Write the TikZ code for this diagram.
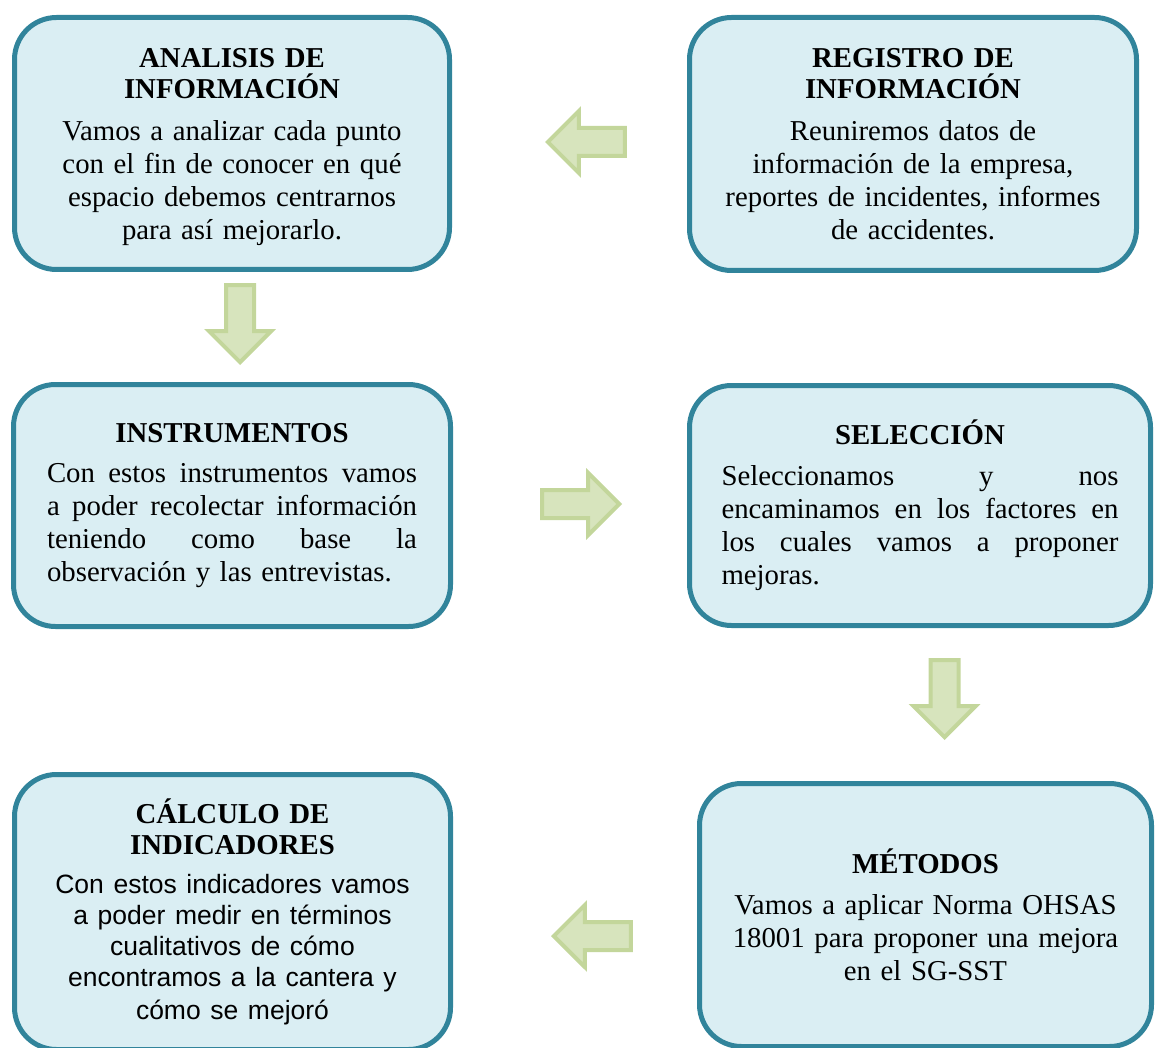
\documentclass[tikz,border=0pt]{standalone}
\usepackage{fontspec}
\setmainfont{Liberation Serif}
\setsansfont{Liberation Sans}
\usetikzlibrary{shapes.arrows,positioning}
\definecolor{boxteal}{RGB}{49,132,155}
\definecolor{boxfill}{RGB}{218,238,243}
\definecolor{arrowfill}{RGB}{215,228,189}
\definecolor{arrowline}{RGB}{195,214,155}
\tikzset{
	stage/.style={
		draw=boxteal,
		fill=boxfill,
		line width=5pt,
		rounded corners=42pt,
		inner sep=0pt,
		align=center,
		font=\fontsize{28.8}{33}\selectfont
	},
	blockarrow/.style={
		single arrow,
		draw=arrowline,
		fill=arrowfill,
		line width=4pt,
		minimum height=77pt,
		minimum width=58pt,
		single arrow head extend=17pt,
		inner sep=12pt
	}
}
\newcommand{\fillline}[1]{\makebox[\hsize][s]{\spaceskip=.25em plus 1fil\relax #1}}
\newcommand{\lastline}[1]{\makebox[\hsize][l]{#1}}

\begin{document}
\begin{tikzpicture}[x=1pt,y=-1pt]
	
	\clip (0,0) rectangle (1155,1048);
	
	% --- TOP ROW ---
	\node[stage, minimum width=435pt, minimum height=252pt, text width=420pt]
	(analisis) at (232,143.5)
	{{\bfseries ANALISIS DE}\\[-2pt]{\bfseries INFORMACIÓN}\\[9pt]
		Vamos a analizar cada punto\\
		con el fin de conocer en qué\\
		espacio debemos centrarnos\\
		\smash{para así mejorarlo.}};
	
	\node[stage, minimum width=447pt, minimum height=253pt, text width=430pt]
	(registro) at (913,144)
	{{\bfseries REGISTRO DE}\\[-2pt]{\bfseries INFORMACIÓN}\\[9pt]
		Reuniremos datos de\\
		información de la empresa,\\
		reportes de incidentes, informes\\
		de accidentes.};
	
	% --- MIDDLE ROW ---
	\node[stage, minimum width=437pt, minimum height=242pt, text width=370pt]
	(instrumentos) at (232,505.5)
	{{\bfseries INSTRUMENTOS}\\[7pt]
		\fillline{Con estos instrumentos vamos}\\
		\fillline{a poder recolectar información}\\
		\fillline{teniendo como base la}\\
		\lastline{observación y las entrevistas.}};
	
	\node[stage, minimum width=461pt, minimum height=240pt, text width=397pt]
	(seleccion) at (920,505.5)
	{{\bfseries SELECCIÓN}\\[8pt]
		\fillline{Seleccionamos y nos}\\
		\fillline{encaminamos en los factores en}\\
		\fillline{los cuales vamos a proponer}\\
		\lastline{mejoras.}};
	
	% --- BOTTOM ROW ---
	\node[stage, minimum width=436pt, minimum height=275pt, text width=420pt]
	(calculo) at (232.5,912)
	{{\bfseries CÁLCULO DE}\\[-2pt]{\bfseries INDICADORES}\\[8pt]
		{\sffamily\fontsize{26.5}{31}\selectfont
			Con estos indicadores vamos\\
			a poder medir en términos\\
			cualitativos de cómo\\
			encontramos a la cantera y\\
			cómo se mejoró}};
	
	\node[stage, minimum width=452pt, minimum height=263pt, text width=430pt]
	(metodos) at (925.5,915)
	{{\bfseries MÉTODOS}\\[8pt]
		Vamos a aplicar Norma OHSAS\\
		18001 para proponer una mejora\\
		\smash{en el SG-SST}};
	
	% --- BLOCK ARROWS ---
	\node[blockarrow, shape border rotate=180, anchor=tip] (toanalisis) at (545,142) {};
	\node[blockarrow, shape border rotate=270, anchor=tip] (toinstr) at (240,365) {};
	\node[blockarrow, anchor=tip] (tosel) at (622,504) {};
	\node[blockarrow, shape border rotate=270, anchor=tip] (tometodos) at (944.5,740) {};
	\node[blockarrow, shape border rotate=180, anchor=tip] (tocalculo) at (551,936) {};
	
\end{tikzpicture}
\end{document}
